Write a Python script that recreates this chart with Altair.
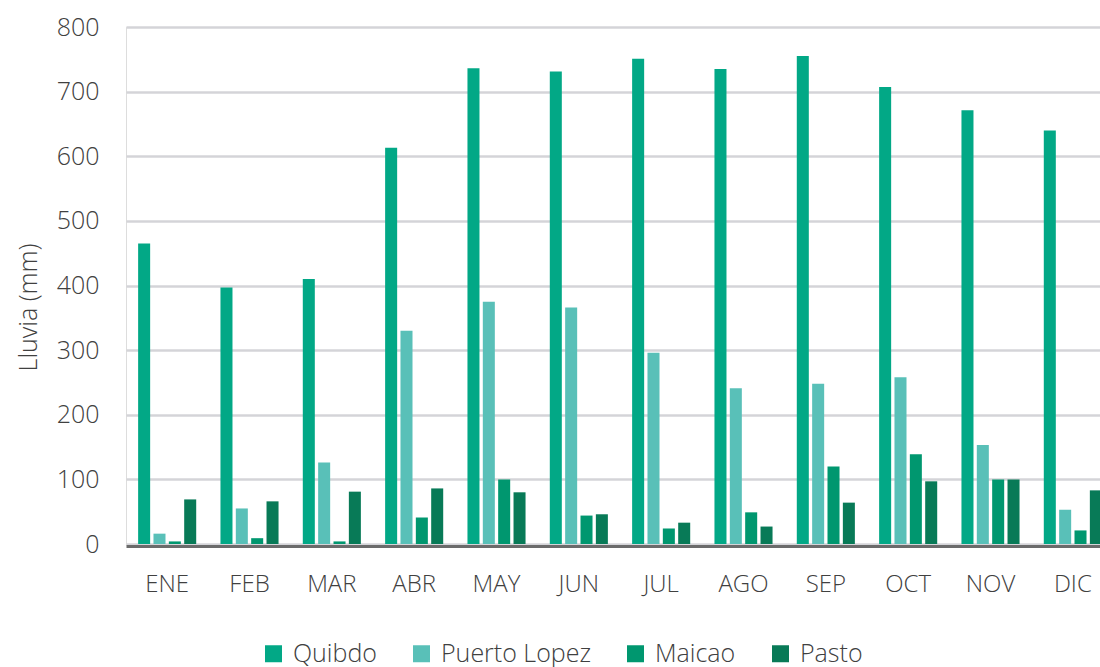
import altair as alt
import pandas as pd

# Monthly rainfall (mm) for four Colombian towns
meses = ["ENE", "FEB", "MAR", "ABR", "MAY", "JUN", "JUL", "AGO", "SEP", "OCT", "NOV", "DIC"]
ciudades = ["Quibdo", "Puerto Lopez", "Maicao", "Pasto"]

quibdo = [465, 397, 410, 613, 736, 731, 751, 735, 755, 707, 671, 640]
puerto_lopez = [16, 55, 126, 330, 375, 366, 296, 241, 248, 258, 153, 53]
maicao = [4, 9, 4, 41, 100, 44, 24, 49, 120, 139, 100, 21]
pasto = [69, 66, 81, 86, 80, 46, 33, 27, 64, 97, 100, 83]

colores = ["#02A886", "#59C0B8", "#00976F", "#087A57"]

series = {"Quibdo": quibdo, "Puerto Lopez": puerto_lopez, "Maicao": maicao, "Pasto": pasto}
rows = []
for ciudad, valores in series.items():
    for mes, v in zip(meses, valores):
        rows.append({"Mes": mes, "Ciudad": ciudad, "Lluvia": v})
df = pd.DataFrame(rows)

FONT = "Open Sans"
TEXT = "#404040"

bars = alt.Chart(df).mark_bar().encode(
    x=alt.X(
        "Mes:N",
        sort=meses,
        scale=alt.Scale(range=[0, 988], paddingInner=0, paddingOuter=0),
        axis=alt.Axis(
            title=None,
            labelAngle=0,
            ticks=False,
            grid=False,
            domainColor="#6b6b6b",
            domainWidth=3,
            offset=2,
            labelPadding=26,
            labelFontSize=24,
            labelFont=FONT,
            labelFontWeight=300,
            labelColor=TEXT,
        ),
    ),
    xOffset=alt.XOffset(
        "Ciudad:N",
        sort=ciudades,
        scale=alt.Scale(paddingInner=0.217, paddingOuter=0.79),
    ),
    y=alt.Y(
        "Lluvia:Q",
        scale=alt.Scale(domain=[0, 800], nice=False),
        axis=alt.Axis(
            title="Lluvia (mm)",
            values=[0, 100, 200, 300, 400, 500, 600, 700, 800],
            ticks=False,
            domain=False,
            gridColor="#d4d4d8",
            gridWidth=2.5,
            labelPadding=27,
            labelFontSize=25,
            labelFont=FONT,
            labelFontWeight=300,
            labelColor=TEXT,
            titleFontSize=25,
            titleFont=FONT,
            titleFontWeight=300,
            titleColor=TEXT,
            titleX=-98,
            titleY=280,
            titleAlign="center",
            titleBaseline="middle",
            titleAngle=270,
        ),
    ),
    color=alt.Color(
        "Ciudad:N",
        sort=ciudades,
        scale=alt.Scale(domain=ciudades, range=colores),
        legend=alt.Legend(
            title=None,
            orient="none",
            direction="horizontal",
            legendX=135,
            legendY=614,
            symbolType="square",
            symbolSize=289,
            symbolStrokeWidth=0,
            labelFontSize=25,
            labelFont=FONT,
            labelFontWeight=300,
            labelColor=TEXT,
            labelOffset=7,
            labelLimit=400,
            columnPadding=32,
        ),
    ),
)

chart = bars.properties(
    width=974,
    height=517,
    autosize=alt.AutoSizeParams(type="none"),
    padding={"left": 126, "top": 27, "right": 0, "bottom": 123},
).configure_view(stroke=None).configure(background="white")

chart.save("out.html", embed_options={"renderer": "svg", "actions": False})
